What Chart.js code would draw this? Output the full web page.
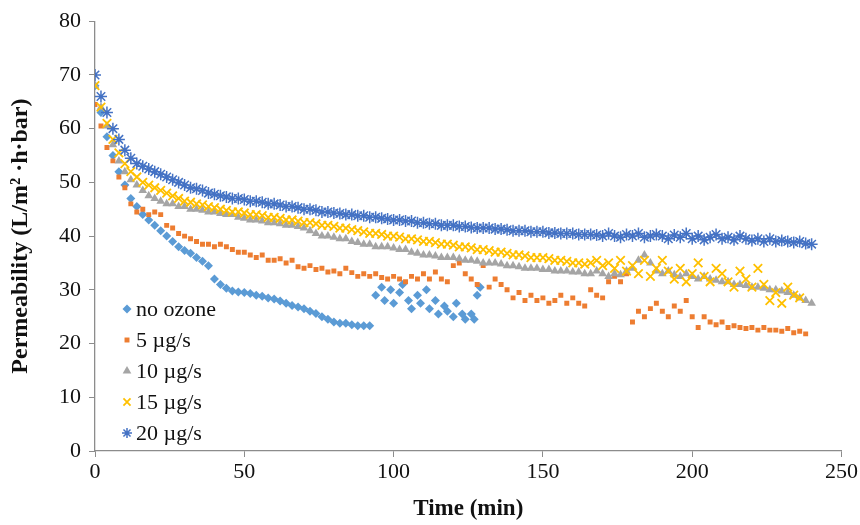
<!DOCTYPE html>
<html>
<head>
<meta charset="utf-8">
<script src="https://cdn.jsdelivr.net/npm/chart.js@4.4.1/dist/chart.umd.min.js"></script>
<style>
  body { margin: 0; background: #fff; }
  #wrap { width: 860px; height: 525px; }
</style>
</head>
<body>
<div id="wrap"><canvas id="myChart" width="860" height="525"></canvas></div>
<script>
/*               data                */

let seriesNames = ['no ozone', '5 \u00B5g/s', '10 \u00B5g/s', '15 \u00B5g/s', '20 \u00B5g/s'];
let xTicks = [0, 50, 100, 150, 200, 250];
let yTicks = [0, 10, 20, 30, 40, 50, 60, 70, 80];

// sampling times (min)
let minutes = [0, 2, 4, 6, 8, 10, 12, 14, 16, 18, 20, 22, 24, 26, 28, 30, 32, 34, 36, 38,
    40, 42, 44, 46, 48, 50, 52, 54, 56, 58, 60, 62, 64, 66, 68, 70, 72, 74, 76, 78,
    80, 82, 84, 86, 88, 90, 92, 94, 96, 98, 100, 102, 104, 106, 108, 110, 112, 114, 116, 118,
    120, 122, 124, 126, 128, 130, 132, 134, 136, 138, 140, 142, 144, 146, 148, 150, 152, 154, 156, 158,
    160, 162, 164, 166, 168, 170, 172, 174, 176, 178, 180, 182, 184, 186, 188, 190, 192, 194, 196, 198,
    200, 202, 204, 206, 208, 210, 212, 214, 216, 218, 220, 222, 224, 226, 228, 230, 232, 234, 236, 238, 240];

let noOzone = [68, 63, 58.5, 55, 52, 49.5, 47, 45.5, 44, 43,
    42, 41, 40, 39, 38, 37.3, 36.8, 36, 35.3, 34.5,
    32, 31, 30.3, 29.8, 29.6, 29.5, 29.3, 29, 28.8, 28.5,
    28.3, 27.9, 27.5, 27.1, 26.8, 26.5, 26, 25.6, 25, 24.5,
    24, 23.8, 23.8, 23.5, 23.3, 23.3, 23.3];
// second, scattered run of the no ozone series
let noOzoneLateTime = [94, 96, 97, 99, 100, 102, 103, 105, 106, 108, 109, 111, 112, 114, 115, 117, 118, 120, 121, 123, 124, 126, 127, 128, 129];
let noOzoneLate = [29, 30.5, 28, 30, 27.5, 29.5, 31, 28, 26.5, 29, 27.5, 30, 26.5, 28, 25.5, 27, 26, 25, 27.5, 25.5, 24.5, 25.5, 24.5, 29, 30.5];

let ozone5 = [64.5, 60.5, 56.5, 54, 51, 49, 46, 44.5, 45, 44,
    44.5, 44, 42, 41.5, 40.5, 40, 39.5, 39, 38.5, 38.5,
    38, 38.5, 38, 37.5, 37, 37, 36.5, 36, 36.5, 35.5,
    35.5, 35.8, 35, 35.5, 34.3, 34, 34.5, 33.8, 34, 33.3,
    33.5, 33, 34, 33.2, 32.5, 33, 32.5, 33, 32.3, 32,
    32.5, 32, 31.5, 32.5, 32, 33, 32, 33.3, 32, 31.5,
    34.5, 35, 33, 32, 31, 34.5, 30.5, 32, 31, 30,
    28.5, 29.5, 28, 29, 28, 28.5, 27.5, 28, 29, 27.5,
    28.5, 27.5, 27, 30, 29, 28.5, 31.5, 32.5, 31.5, 33,
    24, 26, 25, 26.5, 27.5, 26, 25, 27, 26, 28,
    25, 23, 25, 24, 23.5, 24, 23, 23.3, 23, 22.8,
    23, 22.5, 23, 22.5, 22.5, 22.3, 22.8, 22, 22.3, 21.8];

let ozone10 = [68, 64, 60.5, 57, 54, 52, 50.5, 49.5, 48.5, 47.5,
    47, 46.5, 46, 46, 45.5, 45.5, 45, 45, 44.8, 44.5,
    44.5, 44.2, 44, 44, 43.5, 43.3, 43, 43, 42.8, 42.5,
    42.5, 42.3, 42, 42, 41.8, 41.5, 41, 40.5, 40, 40,
    39.8, 39.5, 39.5, 39, 38.8, 38.5, 38.5, 38, 38, 38,
    37.8, 37.5, 37.5, 37, 36.8, 36.5, 36.5, 36.3, 36, 36,
    36, 35.8, 35.5, 35.5, 35.3, 35, 35, 35, 34.8, 34.5,
    34.5, 34.3, 34, 34, 34, 33.8, 33.8, 33.5, 33.5, 33.5,
    33.3, 33.3, 33, 33, 33.5, 33, 32.5, 33, 32.8, 33.5,
    34, 35.5, 36.5, 35, 33.5, 33, 33.5, 32.8, 32.5, 33,
    32.5, 32, 32.5, 32, 31.8, 31.5, 31.5, 31, 31, 30.8,
    30.5, 30.5, 30.3, 30, 30, 29.8, 29.5, 29, 28.5, 28,
    27.5];

let ozone15 = [68, 64, 61, 58, 55.5, 53.5, 52, 51, 50, 49.5,
    49, 48.5, 48, 47.5, 47, 46.5, 46.3, 46, 45.8, 45.5,
    45.3, 45, 44.8, 44.5, 44.5, 44.3, 44, 44, 43.8, 43.5,
    43.5, 43.3, 43, 43, 42.8, 42.5, 42.5, 42.3, 42, 42,
    41.8, 41.5, 41.5, 41.2, 41, 40.8, 40.5, 40.5, 40.3, 40,
    40, 39.8, 39.5, 39.5, 39.3, 39, 39, 38.8, 38.5, 38.5,
    38.3, 38, 38, 37.8, 37.5, 37.5, 37.3, 37, 37, 36.8,
    36.5, 36.5, 36.3, 36, 36, 36, 35.8, 35.5, 35.5, 35.3,
    35, 35, 34.8, 35, 35.5, 34.5, 35, 34, 35.5, 33.5,
    34.5, 33, 35.5, 32.5, 34, 35.5, 33.5, 32, 34, 31.5,
    33, 35, 32.5, 31.5, 34, 33, 31.5, 30.5, 33.5, 32,
    30.5, 34, 31, 28, 29.5, 27.5, 30.5, 29, 28.5];

let ozone20 = [70, 66, 63, 60, 58, 56, 54.5, 53.5, 53, 52.5,
    52, 51.5, 51, 50.5, 50, 49.5, 49, 48.8, 48.5, 48,
    47.8, 47.5, 47.3, 47, 47, 46.8, 46.5, 46.5, 46.3, 46,
    46, 45.8, 45.5, 45.5, 45.3, 45, 45, 44.8, 44.5, 44.5,
    44.3, 44.2, 44, 44, 43.8, 43.8, 43.5, 43.5, 43.3, 43.2,
    43, 43, 42.8, 42.8, 42.5, 42.5, 42.3, 42.3, 42, 42,
    42, 41.8, 41.8, 41.6, 41.5, 41.5, 41.5, 41.3, 41.3, 41.2,
    41, 41, 41, 40.8, 40.8, 40.8, 40.6, 40.6, 40.5, 40.5,
    40.5, 40.3, 40.3, 40.3, 40.2, 40, 40.5, 40, 39.8, 40.3,
    40, 40.5, 39.8, 40, 40.3, 40, 39.5, 40.2, 39.8, 40.5,
    39.5, 40, 39.3, 39.8, 40.3, 39.5, 39.8, 39.3, 40, 39.5,
    39.2, 39.5, 39, 39.5, 39, 39.2, 39, 38.8, 39, 38.6,
    38.5];

/*               helpers                */

function toPoints(times, values) {
    let pts = [];
    for (let i = 0; i < values.length; i++) {
        pts.push({ x: times[i], y: values[i] });
    }
    return pts;
}

let serif = '"Liberation Serif", "Times New Roman", serif';

// legend drawn inside the plot area, bottom left
const insideLegend = {
    id: 'insideLegend',
    afterDraw(chart) {
        const ctx = chart.ctx;
        const area = chart.chartArea;
        ctx.save();
        ctx.font = '22px ' + serif;
        ctx.textBaseline = 'middle';
        chart.data.datasets.forEach(function (ds, i) {
            let x = area.left + 32;
            let y = area.bottom - 142 + i * 31;
            ctx.fillStyle = ds.backgroundColor;
            ctx.strokeStyle = ds.borderColor;
            ctx.lineWidth = ds.borderWidth;
            Chart.helpers.drawPoint(ctx, {
                pointStyle: ds.pointStyle,
                radius: Math.min(ds.pointRadius, 5),
                borderWidth: ds.borderWidth,
                rotation: 0
            }, x, y);
            ctx.fillStyle = '#111';
            ctx.fillText(ds.label, x + 9, y + 1);
        });
        ctx.restore();
    }
};

let ctx = document.getElementById('myChart').getContext('2d');
let chart = new Chart(ctx, {
    type: 'scatter',
    data: {
        datasets: [{
            label: seriesNames[0],
            data: toPoints(minutes, noOzone).concat(toPoints(noOzoneLateTime, noOzoneLate)),
            pointStyle: 'rectRot',
            pointRadius: 4.5,
            backgroundColor: '#5B9BD5',
            borderColor: '#5B9BD5',
            borderWidth: 0,
            order: 4
        }, {
            label: seriesNames[1],
            data: toPoints(minutes, ozone5),
            pointStyle: 'rect',
            pointRadius: 3.5,
            backgroundColor: '#ED7D31',
            borderColor: '#ED7D31',
            borderWidth: 0,
            order: 3
        }, {
            label: seriesNames[2],
            data: toPoints(minutes, ozone10),
            pointStyle: 'triangle',
            pointRadius: 5,
            backgroundColor: '#A5A5A5',
            borderColor: '#A5A5A5',
            borderWidth: 0,
            order: 2
        }, {
            label: seriesNames[3],
            data: toPoints(minutes, ozone15),
            pointStyle: 'crossRot',
            pointRadius: 6,
            backgroundColor: '#FFC000',
            borderColor: '#FFC000',
            borderWidth: 1.8,
            order: 1
        }, {
            label: seriesNames[4],
            data: toPoints(minutes, ozone20),
            pointStyle: 'star',
            pointRadius: 6,
            backgroundColor: '#4472C4',
            borderColor: '#4472C4',
            borderWidth: 1.5,
            order: 0
        }]
    },
    options: {
        responsive: false,
        animation: false,
        layout: { padding: { top: 19, right: 13, left: 0, bottom: 0 } },
        plugins: {
            legend: { display: false },
            tooltip: { enabled: false }
        },
        scales: {
            x: {
                type: 'linear',
                min: 0,
                max: 250,
                afterBuildTicks: function (axis) {
                    axis.ticks = xTicks.map(function (v) { return { value: v }; });
                },
                afterFit: function (axis) { axis.height = 74; },
                grid: { drawOnChartArea: false, drawTicks: true, tickLength: 6, color: '#8c8c8c' },
                border: { color: '#8c8c8c', width: 1.3 },
                ticks: { color: '#111', font: { family: serif, size: 22 }, padding: 2, maxRotation: 0 },
                title: {
                    display: true,
                    text: 'Time (min)',
                    color: '#111',
                    font: { family: serif, size: 23, weight: 'bold' },
                    padding: { top: 0, bottom: 2 }
                }
            },
            y: {
                min: 0,
                max: 80,
                afterBuildTicks: function (axis) {
                    axis.ticks = yTicks.map(function (v) { return { value: v }; });
                },
                afterFit: function (axis) { axis.width = 95; },
                grid: { drawOnChartArea: false, drawTicks: true, tickLength: 6, color: '#8c8c8c' },
                border: { color: '#8c8c8c', width: 1.3 },
                ticks: { color: '#111', font: { family: serif, size: 22 }, padding: 8 },
                title: {
                    display: true,
                    text: 'Permeability (L/m\u00B2 \u00B7h\u00B7bar)',
                    color: '#111',
                    font: { family: serif, size: 24, weight: 'bold' },
                    padding: { top: 6, bottom: 0 }
                }
            }
        }
    },
    plugins: [insideLegend]
});
</script>
</body>
</html>
